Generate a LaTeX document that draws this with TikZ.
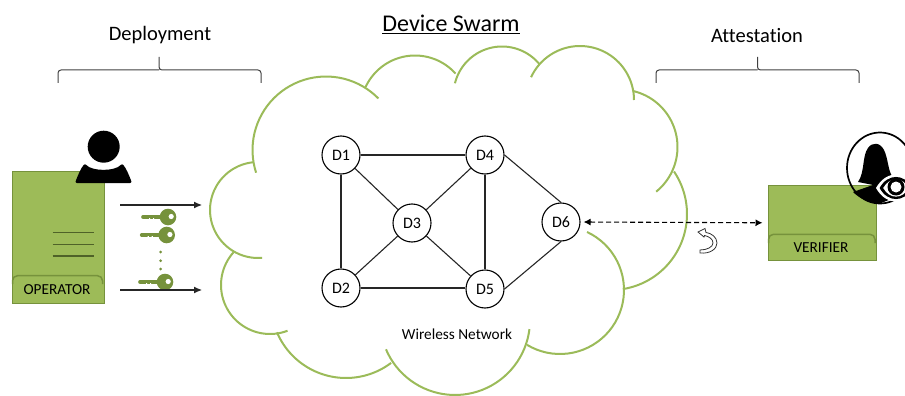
\documentclass[tikz,border=0pt]{standalone}
\usepackage{fontspec}
\setmainfont{Carlito}[Ligatures=NoCommon]
\usepackage{tikz}
\usetikzlibrary{positioning,calc,arrows.meta}
\definecolor{cloudgreen}{HTML}{9BBB59}
\definecolor{boxgreen}{HTML}{9DBB58}
\definecolor{boxedge}{HTML}{76923C}
\definecolor{keygreen}{HTML}{76923C}
\definecolor{linegreen}{HTML}{4F6228}

\begin{document}
\begin{tikzpicture}[x=1pt,y=-1pt,
    device/.style={circle, draw, line width=1.1pt, fill=white, minimum size=38pt, inner sep=0pt, font=\fontsize{16}{16}\selectfont},
    cloudarc/.style={draw=cloudgreen, line width=2pt},
    link/.style={draw=black!85, line width=1.1pt},
    flow/.style={draw=black!85, line width=1.1pt, -{Latex[length=8pt,width=7pt]}},
    bracket/.style={draw=black!75, line width=1pt, rounded corners=3pt},
    title/.style={font=\fontsize{20.5}{21}\selectfont},
    panel/.style={rectangle, draw=boxedge, fill=boxgreen, line width=1.6pt, inner sep=0pt, anchor=north west},
    tag/.style={font=\fontsize{15.3}{16}\selectfont}]
\useasboundingbox (0,0) rectangle (905,396);
\clip (0,0) rectangle (905,396);

% CLOUD
\foreach \cx/\cy/\r/\from/\to in {326/150/73.5/162/315.5, 415/110/54.5/205/318, 502/95/48.5/194/321,
    580/100/54/205/360, 620/147/57.5/284/411, 611/214/76/-34/81, 560/290/64/-65/121,
    455/320/75/7/157, 346/303/75/53/157, 270/285/49/69/222, 258/210/48/85/264}
  \draw[cloudarc] plot[domain=\from:\to, samples=40] ({\cx+\r*cos(\x)},{\cy+\r*sin(\x)});

% DEVICES
\node[device] (D1) at (341,155) {D1};
\node[device] (D4) at (485,155) {D4};
\node[device] (D3) at (412,223) {D3};
\node[device] (D2) at (341,288) {D2};
\node[device] (D5) at (485,289) {D5};
\node[device] (D6) at (561,222) {D6};
\foreach \a/\b in {D1/D4,D1/D2,D1/D3,D4/D3,D4/D5,D2/D3,D3/D5}
  \draw[link] (\a) -- (\b);
\draw[link] (D2.east) -- (D2.east -| D5.west);
\draw[link] (D4.east) -- (D6.north);
\draw[link] (D5.east) -- (D6.south);

% TITLES
\node[font=\fontsize{24}{24}\selectfont] (swarmtitle) at (451,24) {\underline{Device Swarm}};
\node[title] (deploytitle) at (160,35) {Deployment};
\node[title] (attesttitle) at (757,36) {Attestation};
\node[tag] (wireless) at (457,334) {Wireless Network};

\draw[bracket] (58,83) -- (58,70) -- (159,70) (159,57) -- (159,70) -- (261,70) -- (261,83);
\draw[bracket] (656,83) -- (656,70) -- (757.5,70) (757.5,57) -- (757.5,70) -- (859,70) -- (859,83);

% OPERATOR
\node[panel, minimum width=92pt, minimum height=132pt] (operator) at (11.5,170.5) {};
\draw[boxedge, line width=1.5pt, rounded corners=5pt] (12.5,284) -- (12.5,275.7) -- (102.5,275.7) -- (102.5,284);
\node[tag] (operatorlabel) at (57,290) {OPERATOR};
\foreach \y in {232.3,244.3,256}
  \draw[linegreen, line width=1.4pt] (52.7,\y) -- (94,\y);
\fill[black] (103.7,146.7) circle (16);
\fill[black, rounded corners=2pt] (75,183) .. controls (78,175) and (81,168) .. (85,163.5) .. controls (92,171.5) and (115,171.5) .. (122,163.5) .. controls (126,168) and (129,175) .. (132,183) -- cycle;

% KEYS
\foreach \x/\y/\len in {168/217/26, 166.7/235/26, 165/282/26} {
  \draw[keygreen, line width=3.6pt, line cap=round] (\x-\len+1,\y) -- (\x-5,\y);
  \fill[white] (\x-\len+7,\y+1) rectangle +(1.2,1) (\x-\len+11,\y+1) rectangle +(1.2,1);
  \fill[keygreen] (\x,\y) circle (8.3);
  \fill[white] (\x+3.2,\y-0.5) circle (2.6);
}
\foreach \y in {252,260.7,269}
  \fill[keygreen] (160.7,\y) circle (1.5);

\coordinate (flowAs) at (120,205);
\coordinate (flowAe) at (202,205);
\coordinate (flowBs) at (120,290);
\coordinate (flowBe) at (202,290);
\draw[flow] (flowAs) -- (flowAe);
\draw[flow] (flowBs) -- (flowBe);

% VERIFIER
\node[panel, minimum width=108pt, minimum height=75pt] (verifier) at (767.5,184.5) {};
\draw[boxedge, line width=1.5pt, rounded corners=5pt] (768.5,243) -- (768.5,234.3) -- (875,234.3) -- (875,243);
\node[tag] (verifierlabel) at (821,248) {VERIFIER};

\draw[black, line width=1.7pt] (880,168) ellipse [x radius=33, y radius=35.5];
\fill[black] (858,182) .. controls (865,172) and (862,156) .. (868,148) .. controls (872,142) and (880,142) .. (884,150) .. controls (888,158) and (888,170) .. (892,176) -- (880,187) -- (873,185) -- cycle;
\fill[black] (873,185) -- (853,192) .. controls (860,199) and (870,203) .. (880,203.5) -- (896,197) -- (885,184) -- cycle;
\foreach \s/\c in {1/white,0.82/black,0.64/white}
  \fill[\c, shift={(896,188)}, scale=\s] (-20,0) .. controls (-10,-18) and (10,-18) .. (20,0) .. controls (10,18) and (-10,18) .. cycle;
\fill[black] (896,187) circle (8.5);
\fill[white] (896,187) circle (5.5);

\draw[black!80, fill=white, line width=0.8pt] (700,253) .. controls (710,254) and (717,249) .. (717,243) .. controls (717,237) and (711,233) .. (706,232.5) -- (705,228.5) -- (698,232) -- (704,237) -- (704.5,235.5) .. controls (709,236.5) and (713,239) .. (713,243) .. controls (713,247) and (707,250) .. (700,250) -- cycle;
\draw[black, line width=1.1pt, dash pattern=on 5pt off 3pt, {Latex[length=7pt,width=7pt]}-{Latex[length=7pt,width=7pt]}, shorten <=3pt, shorten >=5pt] (D6.east) -- (verifier.west);

\end{tikzpicture}
\end{document}
